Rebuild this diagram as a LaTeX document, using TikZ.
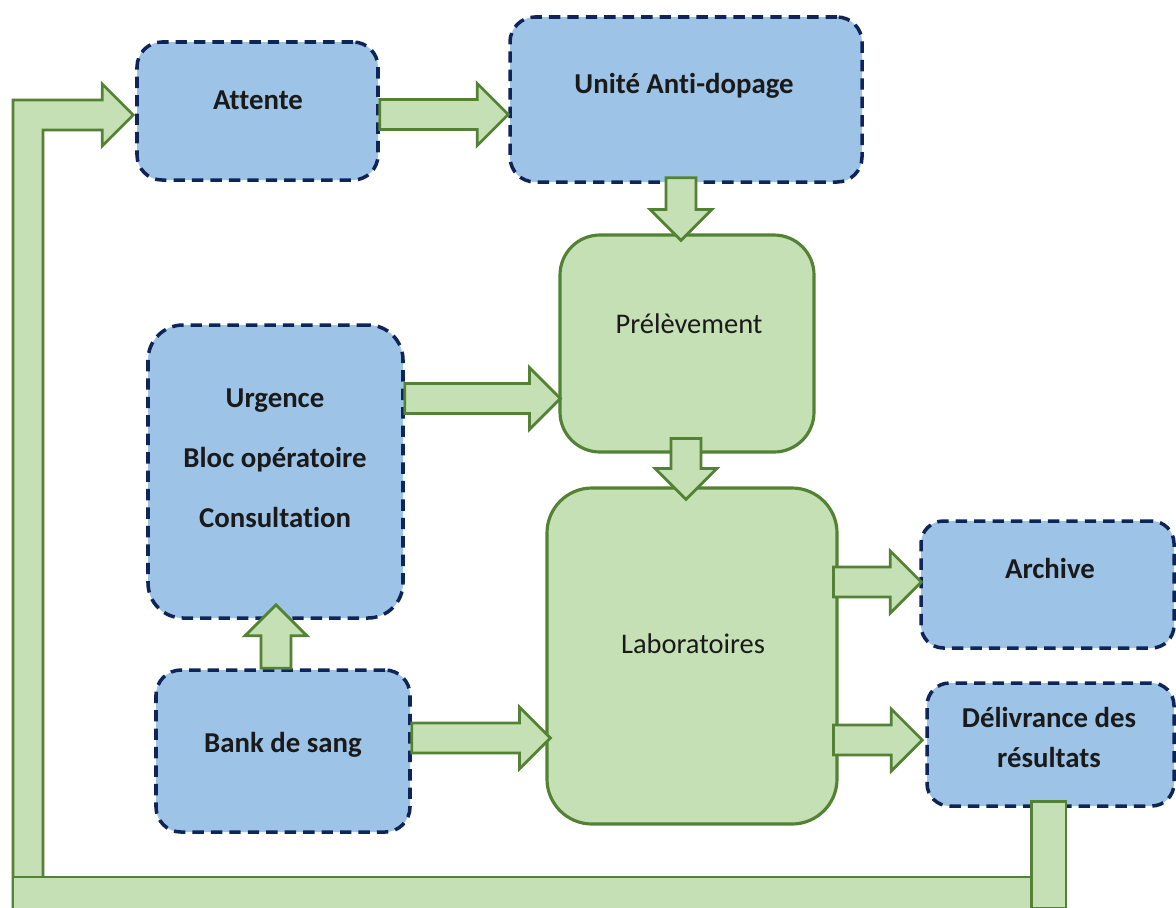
\documentclass[tikz,border=0pt]{standalone}
\usepackage{fontspec}
\setmainfont{Carlito}[Ligatures={NoCommon,NoRare,NoContextual}]
\usetikzlibrary{calc,fit}

\definecolor{boxblue}{HTML}{9DC3E6}
\definecolor{boxnavy}{HTML}{0F2557}
\definecolor{boxgreen}{HTML}{C5E0B4}
\definecolor{edgegreen}{HTML}{548235}
\definecolor{ink}{HTML}{1A1A1A}

% block arrow geometry: shaft half-width, head half-width, head length
\def\sw{8.5pt}
\def\hw{17.6pt}
\def\hl{17.6pt}

% block arrows: tail point gives the start, tip point gives the end and the axis
\newcommand\rarrow[2]{\draw[flow] let \p1=(#1), \p2=(#2) in
  (\x1,\y2+\sw) -- (\x2-\hl,\y2+\sw) -- (\x2-\hl,\y2+\hw) -- (\x2,\y2)
  -- (\x2-\hl,\y2-\hw) -- (\x2-\hl,\y2-\sw) -- (\x1,\y2-\sw) -- cycle;}
\newcommand\darrow[2]{\draw[flow] let \p1=(#1), \p2=(#2) in
  (\x2-\sw,\y1) -- (\x2-\sw,\y2+\hl) -- (\x2-\hw,\y2+\hl) -- (\x2,\y2)
  -- (\x2+\hw,\y2+\hl) -- (\x2+\sw,\y2+\hl) -- (\x2+\sw,\y1) -- cycle;}
\newcommand\uarrow[2]{\draw[flow] let \p1=(#1), \p2=(#2) in
  (\x2-\sw,\y1) -- (\x2-\sw,\y2-\hl) -- (\x2-\hw,\y2-\hl) -- (\x2,\y2)
  -- (\x2+\hw,\y2-\hl) -- (\x2+\sw,\y2-\hl) -- (\x2+\sw,\y1) -- cycle;}

\tikzset{
  bluebox/.style={draw=boxnavy, fill=boxblue, line width=2pt,
    dash pattern=on 6.5pt off 4pt, rounded corners=0.5cm, inner sep=0pt},
  greenbox/.style={draw=edgegreen, fill=boxgreen, line width=1.8pt,
    rounded corners=0.8cm, inner sep=0pt},
  flow/.style={draw=edgegreen, fill=boxgreen, line width=1.6pt, line join=miter},
  btxt/.style={anchor=base, text=ink, inner sep=0pt,
    font=\fontsize{16.4}{19}\selectfont\bfseries},
  gtxt/.style={anchor=base, text=ink, inner sep=0pt,
    font=\fontsize{16.2}{19}\selectfont},
}

\begin{document}
\begin{tikzpicture}[x=0.02cm, y=-0.02cm]
\useasboundingbox (0,0) rectangle (1176,907);
\fill[white] (0,0) rectangle (1176,907);
\clip (0,0) rectangle (1176,907);

% boxes
\node[bluebox, fit={(137,42) (378,180)}] (attente) {};
\node[bluebox, fit={(510,17) (862,182)}] (unite) {};
\node[greenbox, fit={(560,235) (814,452)}] (prelev) {};
\node[bluebox, rounded corners=0.7cm, fit={(148,325) (403,618)}] (urgence) {};
\node[bluebox, fit={(156,670) (410,832)}] (bank) {};
\node[greenbox, rounded corners=0.9cm, fit={(547,488) (837,824)}] (labo) {};
\node[bluebox, rounded corners=0.45cm, fit={(921,521) (1174,648)}] (archive) {};
\node[bluebox, rounded corners=0.45cm, fit={(927,683) (1174,806)}] (deliv) {};

% labels
\node[btxt] (attente-t) at (258,109) {Attente};
\node[btxt] (unite-t) at (684,93) {Unité Anti-dopage};
\node[gtxt] (prelev-t) at (689,333) {Prélèvement};
\node[btxt] (urgence-t1) at (275,407) {Urgence};
\node[btxt] (urgence-t2) at (275,467) {Bloc opératoire};
\node[btxt] (urgence-t3) at (275,527) {Consultation};
\node[btxt] (bank-t) at (283,752) {Bank de sang};
\node[gtxt] (labo-t) at (693,653) {Laboratoires};
\node[btxt] (archive-t) at (1050,578) {Archive};
\node[btxt] (deliv-t1) at (1049,727) {Délivrance des};
\node[btxt] (deliv-t2) at (1049,767) {résultats};

% flow arrows
\rarrow{attente.east}{$(unite.west)+(0,15)$}
\darrow{$(unite.south)+(0,-6)$}{$(prelev.north)+(-6,7)$}
\rarrow{urgence.east}{$(prelev.west)+(2,55)$}
\darrow{$(prelev.south)+(0,-15)$}{$(labo.north)+(-6,13)$}
\uarrow{bank.north}{$(urgence.south)+(0.5,-15)$}
\rarrow{bank.east}{$(labo.west)+(5,82)$}
\rarrow{$(labo.east)+(-5,0)$}{$(archive.west)+(2,-2.5)$}
\rarrow{$(labo.east)+(-5,0)$}{$(deliv.west)+(-3,-4.5)$}

% return loop from the results back to the waiting room
\coordinate (loopR) at ($(deliv.south)+(-2,-6)$);
\coordinate (loopL) at ($(attente.west)+(-2,4)$);
\draw[flow] let \p1=(loopL) in
  (13,909) |- (\x1-\hl,\y1+\sw) -- (\x1-\hl,\y1+\hw) -- (\x1,\y1)
  -- (\x1-\hl,\y1-\hw) -- (\x1-\hl,\y1-\sw) -| (43,909) -- cycle;
\draw[flow] (13,877) rectangle (1055,909);
\draw[flow] let \p1=(loopR) in (\x1-9.9pt,\y1) rectangle (\x1+9.9pt,-18.18cm);
\end{tikzpicture}
\end{document}
